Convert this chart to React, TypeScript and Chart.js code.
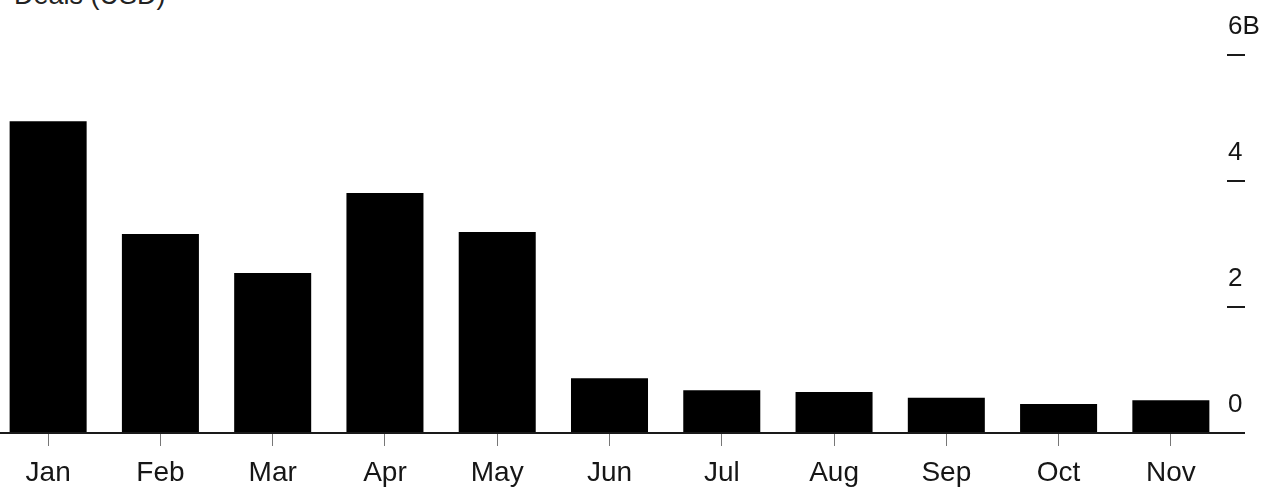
import React, { useEffect, useRef } from "react";
import { Chart, registerables } from "chart.js";

Chart.register(...registerables);

const months = ["Jan", "Feb", "Mar", "Apr", "May", "Jun", "Jul", "Aug", "Sep", "Oct", "Nov"];
const values = [4.95, 3.16, 2.54, 3.81, 3.19, 0.87, 0.68, 0.65, 0.56, 0.46, 0.52];
const yTicks = [0, 2, 4, 6];
const yTickLabels = ["0", "2", "4", "6B"];
const titleText = "Deals (USD)";

const FONT = "'Liberation Sans', Arial, Helvetica, sans-serif";

export default function App() {
  const ref = useRef<HTMLCanvasElement | null>(null);

  useEffect(() => {
    if (!ref.current) return;
    const chart = new Chart(ref.current, {
      type: "bar",
      data: {
        labels: months,
        datasets: [
          {
            data: values,
            backgroundColor: "#000000",
            borderWidth: 0,
            categoryPercentage: 1,
            barPercentage: 0.686,
          },
        ],
      },
      options: {
        animation: false,
        responsive: false,
        maintainAspectRatio: false,
        layout: { padding: { top: 55, left: 12, right: 0, bottom: 0 } },
        plugins: { legend: { display: false }, tooltip: { enabled: false }, title: { display: false } },
        scales: {
          x: {
            position: "bottom",
            afterFit: (s: any) => {
              s.height = 55;
            },
            border: { display: true, color: "#1a1a1a", width: 2 },
            grid: {
              offset: false,
              drawOnChartArea: false,
              drawTicks: true,
              tickLength: 13,
              color: "#777777",
              lineWidth: 1,
            },
            ticks: {
              color: "#161616",
              font: { family: FONT, size: 28 },
              padding: 10,
              maxRotation: 0,
              autoSkip: false,
            },
          },
          y: {
            position: "right",
            min: 0,
            max: 6,
            afterFit: (s: any) => {
              s.width = 37;
            },
            afterBuildTicks: (s: any) => {
              s.ticks = yTicks.map((v) => ({ value: v }));
            },
            border: { display: false },
            grid: {
              drawOnChartArea: false,
              drawTicks: true,
              tickLength: 18,
              color: "#1a1a1a",
              lineWidth: 2,
            },
            ticks: {
              color: "#161616",
              font: { family: FONT, size: 26 },
              padding: -17,
              labelOffset: -28,
              crossAlign: "near",
              callback: (v: any) => {
                const i = yTicks.indexOf(Number(v));
                return i >= 0 ? yTickLabels[i] : "";
              },
            },
          },
        },
      },
    });
    return () => chart.destroy();
  }, []);

  return (
    <div style={{ position: "fixed", left: 0, top: 0, width: 1264, height: 488, background: "#fff", overflow: "hidden" }}>
      <div
        style={{
          position: "absolute",
          left: 14,
          top: -20,
          fontFamily: FONT,
          fontSize: 27,
          color: "#222",
          whiteSpace: "nowrap",
        }}
      >
        {titleText}
      </div>
      <canvas ref={ref} width={1284} height={488} style={{ position: "absolute", left: -20, top: 0, width: 1284, height: 488 }} />
    </div>
  );
}
